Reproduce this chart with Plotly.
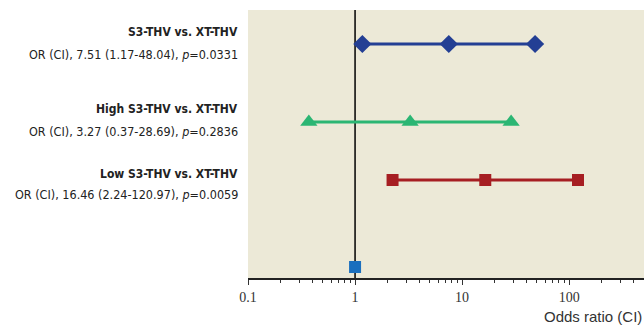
import plotly.graph_objects as go
import math

groups = ["S3-THV vs. XT-THV", "High S3-THV vs. XT-THV", "Low S3-THV vs. XT-THV"]
or_values = [7.51, 3.27, 16.46]
ci_low = [1.17, 0.37, 2.24]
ci_high = [48.04, 28.69, 120.97]
p_values = ["0.0331", "0.2836", "0.0059"]
ref_value = 1
colors = ["#233F94", "#2BB673", "#A61E22"]
symbols = ["diamond", "triangle-up", "square"]
marker_sizes = [14, 15, 12]
row_y = [234, 156, 98]
ref_y = 11

fig = go.Figure()
for i in range(3):
    fig.add_trace(go.Scatter(
        x=[ci_low[i], or_values[i], ci_high[i]],
        y=[row_y[i]] * 3,
        mode="lines+markers",
        line=dict(color=colors[i], width=3),
        marker=dict(symbol=symbols[i], size=marker_sizes[i], color=colors[i]),
        showlegend=False, hoverinfo="x",
    ))
fig.add_trace(go.Scatter(
    x=[ref_value], y=[ref_y], mode="markers",
    marker=dict(symbol="square", size=12, color="#1A6FBE"),
    showlegend=False,
))

fig.add_shape(type="line", xref="x", yref="paper", x0=1, x1=1, y0=0, y1=1,
              line=dict(color="black", width=1.5), layer="below")

font_narrow = "DejaVu Sans Condensed, Liberation Sans Narrow, Arial Narrow, sans-serif"
title_y = [0.918, 0.632, 0.388]
sub_y = [0.835, 0.547, 0.312]
for i in range(3):
    fig.add_annotation(xref="paper", yref="paper", x=-0.02, y=title_y[i],
                       text="<b>" + groups[i] + "</b>", showarrow=False,
                       xanchor="right", yanchor="middle",
                       font=dict(family=font_narrow, size=12, color="#222"))
    fig.add_annotation(xref="paper", yref="paper", x=-0.02, y=sub_y[i],
                       text=f"OR (CI), {or_values[i]:.2f} ({ci_low[i]:.2f}-{ci_high[i]:.2f}), <i>p</i>={p_values[i]}",
                       showarrow=False, xanchor="right", yanchor="middle",
                       font=dict(family=font_narrow, size=12.5, color="#222"))

fig.add_annotation(xref="paper", yref="paper", x=1.0, y=-0.145,
                   text="Odds ratio (CI)", showarrow=False,
                   xanchor="right", yanchor="middle",
                   font=dict(family="Liberation Sans, Arial, sans-serif", size=15, color="#333"))

fig.update_layout(
    width=644, height=326,
    margin=dict(l=248, r=0, t=10, b=48),
    paper_bgcolor="white", plot_bgcolor="#ECE9D7",
    xaxis=dict(type="log", range=[-1, math.log10(500)],
               tickvals=[0.1, 1, 10, 100], ticktext=["0.1", "1", "10", "100"],
               ticks="outside", ticklen=5, tickcolor="#333", showgrid=False,
               showline=True, linecolor="#222", linewidth=1.5, zeroline=False,
               tickfont=dict(family="Liberation Serif, Times New Roman, serif", size=14, color="#333"),
               minor=dict(ticks="outside", ticklen=3, tickcolor="#333", dtick="D1", showgrid=False)),
    yaxis=dict(range=[0, 268], visible=False, showgrid=False, zeroline=False),
)

fig.write_html("out.html", config={"displayModeBar": False},
               post_script="document.body.style.margin='0';document.body.style.padding='0';")
